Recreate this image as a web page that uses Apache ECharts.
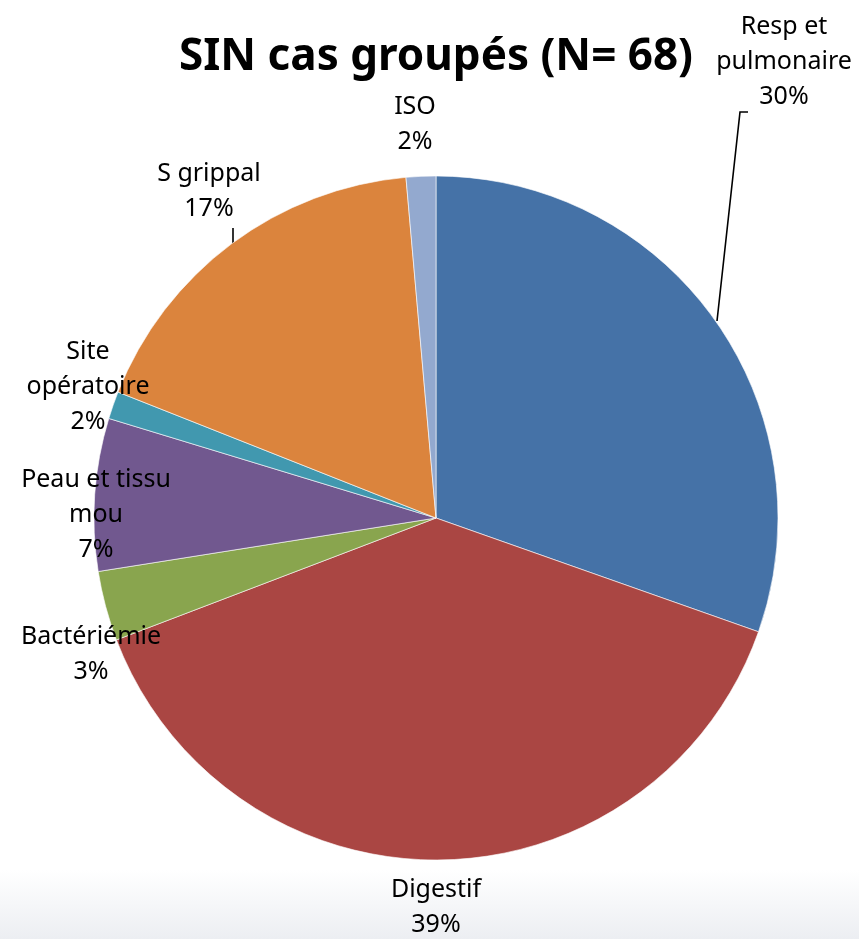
<!DOCTYPE html>
<html><head><meta charset="utf-8">
<script src="https://cdn.jsdelivr.net/npm/echarts@6/dist/echarts.min.js"></script>
<style>html,body{margin:0;padding:0;background:#fff}#c{width:859px;height:939px}</style>
</head><body><div id="c"></div>
<script>
const categories = ['Resp et\npulmonaire', 'Digestif', 'Bactériémie', 'Peau et tissu\nmou', 'Site\nopératoire', 'S grippal', 'ISO'];
const values = [30.4, 38.8, 3.3, 7.2, 1.3, 17.6, 1.4];
const pctLabels = ['30%', '39%', '3%', '7%', '2%', '17%', '2%'];
const colors = ['#4572A7', '#AA4643', '#89A54E', '#71588F', '#4198AF', '#DB843D', '#93A9CF'];

// label anchor positions and leader lines (layout only)
const labelPos = [[784, 62], [436, 907], [91, 654], [96, 515], [88, 387], [209, 191], [415, 124]];
const leaderLines = {
  0: [[717, 321], [740, 112], [748, 112]],
  5: [[233, 246], [233, 237], [233, 228]]
};

const chart = echarts.init(document.getElementById('c'), null, {renderer: 'canvas'});
const FONT = 'Noto Sans';
chart.setOption({
  animation: false,
  backgroundColor: '#ffffff',
  graphic: [{
    type: 'rect', z: -10, silent: true,
    shape: {x: 0, y: 870, width: 859, height: 69},
    style: {fill: new echarts.graphic.LinearGradient(0, 0, 0, 1, [
      {offset: 0, color: '#ffffff'}, {offset: 1, color: '#eceef2'}])}
  }],
  title: {
    text: 'SIN cas groupés (N= 68)',
    left: 431, top: 30, textAlign: 'center',
    textStyle: {fontFamily: FONT, fontWeight: 'bold', fontSize: 44, color: '#000'}
  },
  series: [{
    type: 'pie',
    center: [436, 518],
    radius: 342,
    startAngle: 90,
    clockwise: true,
    itemStyle: {borderColor: 'rgba(255,255,255,0.6)', borderWidth: 1},
    label: {
      show: true, position: 'outside', overflow: 'none', width: 300,
      fontFamily: FONT, fontSize: 25, color: '#000', lineHeight: 35, align: 'center',
      formatter: p => p.name + '\n' + pctLabels[p.dataIndex]
    },
    labelLine: {show: true, length: 10, length2: 10, lineStyle: {color: '#000', width: 1.6}},
    labelLayout: p => {
      const o = {
        x: labelPos[p.dataIndex][0], y: labelPos[p.dataIndex][1],
        align: 'center', verticalAlign: 'middle'
      };
      if (leaderLines[p.dataIndex]) o.labelLinePoints = leaderLines[p.dataIndex];
      return o;
    },
    data: categories.map((c, i) => ({
      name: c, value: values[i],
      itemStyle: {color: colors[i]},
      labelLine: {show: !!leaderLines[i]}
    }))
  }]
});
</script></body></html>
